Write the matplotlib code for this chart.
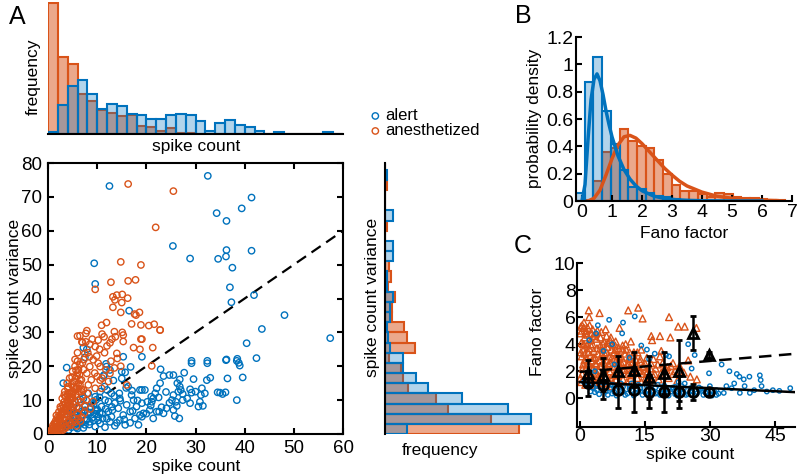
import numpy as np
import matplotlib
matplotlib.use("Agg")
import matplotlib.pyplot as plt
from matplotlib.ticker import FuncFormatter

plt.rcParams['font.family'] = ['Liberation Sans', 'DejaVu Sans']

BLUE = '#0072BD'
ORANGE = '#D95319'

# ---------------- Panel A data: spike count mean vs variance ----------------
alert_mean = [12.5, 32.5, 41.4, 39.4, 34.3, 36.3, 25.4, 36.3, 41.4, 36.2, 34.6, 28.9, 37.5, 9.4, 9.6,
              37.0, 41.9, 37.3, 48.1, 43.5, 57.4, 40.4, 16.5, 7.2, 42.4, 38.5, 36.3, 38.8, 29.2, 32.4,
              3.8, 7.9, 29.2, 32.4, 36.2, 38.4, 39.0, 39.6, 36.5, 27.7, 29.6, 32.3, 35.0, 36.1, 38.4,
              26.8, 26.3, 26.8, 25.5, 24.7, 23.5, 22.9, 22.8, 22.1, 21.8, 21.4, 19.7, 18.7, 28.9, 29.2,
              31.3, 31.1, 31.9, 27.4, 26.5, 25.5, 25.2, 27.4, 28.3, 28.9, 30.9, 30.6, 31.5, 26.0, 26.2,
              24.7, 24.1, 23.1, 23.5, 25.5, 25.8, 26.7, 21.4, 20.7, 19.1, 21.1, 20.9, 20.2, 22.1, 22.6,
              19.4, 3.1, 7.5, 11.3, 11.9, 11.5, 15.0, 15.3, 19.1, 19.1, 6.2, 6.8, 7.5, 8.2, 8.9,
              9.6, 10.2, 10.9, 11.6, 12.3, 12.9, 13.6, 14.3, 14.6, 15.3, 16.0, 16.7, 17.4, 18.0, 18.7,
              19.1, 6.5, 7.5, 8.5, 9.6, 10.6, 11.6, 12.6, 13.6, 14.6, 15.7, 16.7, 17.7, 18.4, 5.5,
              4.8, 4.1, 5.8, 7.2, 8.2, 9.6, 10.6, 12.9, 16.3, 17.0, 3.5, 2.8, 11.8, 12.6, 11.4,
              15.7, 15.0, 13.3, 14.5, 12.0, 10.5, 9.8, 16.8, 13.1, 4.5, 5.2, 6.0, 6.6, 7.8,
              8.6, 9.3, 10.0, 11.0, 12.0, 13.0, 14.0, 15.5, 17.2, 18.2, 20.0, 21.0, 22.5, 24.0, 27.0,
              30.0, 33.0, 34.5, 35.5, 5.0, 5.6, 6.9, 4.3, 3.3, 2.4]
alert_var = [73.2, 76.2, 69.8, 66.6, 65.2, 62.9, 55.5, 54.3, 54.1, 52.4, 51.7, 51.8, 49.1, 50.4, 44.3,
             43.3, 41.0, 38.9, 35.1, 31.0, 28.3, 26.8, 36.4, 25.5, 22.4, 22.2, 22.0, 21.0, 21.6, 21.6,
             19.6, 25.0, 20.9, 20.9, 21.8, 21.6, 20.2, 16.7, 16.4, 18.1, 16.2, 15.9, 12.2, 12.3, 10.0,
             16.1, 15.0, 14.0, 17.4, 17.4, 17.1, 19.1, 15.0, 13.5, 12.0, 10.5, 13.0, 13.0, 13.2, 12.2,
             13.5, 11.5, 12.0, 11.8, 12.5, 11.5, 10.0, 10.0, 10.5, 9.1, 9.5, 8.1, 8.3, 9.5, 8.3,
             9.2, 7.6, 7.9, 6.1, 7.1, 5.3, 4.6, 4.6, 7.1, 5.1, 9.5, 8.4, 9.5, 6.6, 6.6,
             6.1, 15.0, 22.6, 17.1, 19.9, 14.0, 18.4, 22.8, 22.8, 13.0, 7.6, 6.6, 8.1, 5.6, 9.1,
             7.1, 5.1, 8.1, 10.0, 6.6, 5.1, 9.1, 7.6, 10.5, 5.6, 8.6, 6.6, 10.0, 8.1, 5.6,
             9.1, 4.1, 2.7, 3.6, 2.2, 3.1, 2.0, 3.6, 2.4, 4.1, 2.7, 3.3, 4.6, 2.7, 5.6,
             3.6, 2.2, 2.0, 10.5, 12.0, 11.0, 12.5, 12.0, 14.0, 11.5, 4.1, 2.7, 20.7, 18.9, 17.4,
             18.2, 16.4, 15.8, 12.0, 13.0, 10.8, 10.1, 19.8, 7.0, 6.0, 8.8, 3.0, 10.2, 4.4,
             6.3, 4.0, 7.3, 6.0, 4.5, 8.0, 3.3, 4.3, 6.8, 9.9, 6.0, 11.0, 10.8, 12.4, 13.0,
             12.5, 16.6, 12.3, 11.8, 6.9, 4.9, 3.3, 3.0, 2.2, 1.6]
# more alert neurons in the dense low corner
alert_mean_low = [3.0, 3.6, 4.2, 4.8, 5.4, 6.0, 6.6, 7.2, 7.8, 8.4, 9.0, 9.6, 10.2, 5.1, 5.7,
                  6.3, 6.9, 7.5, 8.1, 8.7, 9.3, 9.9, 10.5, 11.1, 11.7, 12.3, 13.5, 14.7, 15.9, 17.1]
alert_var_low = [1.8, 2.4, 1.2, 2.0, 2.6, 1.6, 3.0, 1.8, 4.0, 2.8, 4.8, 6.0, 4.0, 4.8, 6.2,
                 3.8, 5.4, 7.0, 6.4, 8.0, 8.8, 6.8, 6.2, 4.6, 7.4, 9.6, 11.2, 9.8, 13.6, 12.8]

anest_mean = [16.3, 25.5, 21.9, 14.8, 18.9, 12.8, 16.3, 17.8, 9.6, 14.0, 15.1, 13.2, 13.6, 16.2, 15.0,
              13.2, 14.8, 17.6, 17.9, 18.6, 17.0, 18.9, 20.5, 21.6, 22.8, 11.9, 10.9, 7.9, 7.7, 6.0,
              13.5, 15.1, 18.9, 10.2, 11.4, 12.6, 13.7, 6.9, 7.7, 21.3, 18.7, 15.3, 15.3, 14.0, 14.1,
              9.6, 7.5, 8.4, 9.2, 10.2, 10.6, 11.8, 12.6, 8.5, 7.9, 6.5, 8.2, 5.8, 6.8, 9.6,
              10.9, 16.0, 12.3, 10.6, 21.1, 19.1, 22.8, 6.5, 7.0, 8.5, 9.0, 10.5, 11.5, 12.0, 13.0,
              11.0, 6.0, 5.5, 7.0, 9.5, 10.0, 11.0, 8.8, 7.2, 12.8, 13.5, 9.9, 14.8, 17.4,
              0.3, 0.5, 0.7, 0.9, 1.0, 1.2, 1.3, 1.5, 1.6, 1.8, 1.9, 2.0, 2.1, 2.2, 2.3,
              2.5, 2.6, 2.7, 2.8, 3.0, 3.0, 3.1, 3.2, 3.3, 3.4, 3.5, 3.6, 3.7, 3.8, 3.9,
              4.0, 4.0, 4.1, 4.2, 4.3, 4.4, 4.5, 4.6, 4.7, 4.8, 4.9, 5.0, 5.0, 5.1, 5.2,
              5.3, 5.4, 5.5, 5.6, 5.7, 5.8, 5.9, 6.0, 6.1, 6.2, 6.3, 6.4, 6.5, 6.7, 6.8,
              7.0, 7.2, 7.5, 7.8, 8.0, 1.1, 1.5, 2.0, 2.4, 0.2, 0.8, 1.7, 2.9, 3.4, 3.9,
              4.4, 5.0, 5.5, 6.0, 3.5, 4.0, 4.8, 5.5, 6.2, 6.9, 2.3, 3.6, 4.6, 5.8, 7.4,
              8.6, 9.2, 6.6, 4.3, 5.2, 3.1, 2.6, 1.4, 0.6]
anest_var = [73.8, 71.7, 61.0, 50.8, 49.9, 44.8, 45.2, 45.5, 42.7, 41.0, 41.2, 40.5, 39.6, 40.1, 38.8,
             37.4, 35.9, 35.4, 35.1, 35.9, 32.5, 32.2, 32.0, 32.4, 30.7, 32.9, 32.1, 30.5, 29.7, 28.9,
             30.2, 30.0, 28.0, 27.7, 28.7, 26.9, 28.7, 27.2, 27.2, 25.5, 25.0, 29.2, 27.3, 23.8, 22.3,
             25.8, 23.8, 22.8, 21.9, 20.9, 19.9, 18.9, 17.9, 19.9, 17.9, 15.9, 14.5, 13.5, 12.5, 13.5,
             13.5, 14.5, 15.5, 15.9, 20.1, 28.0, 30.7, 29.0, 27.0, 26.5, 28.0, 25.0, 24.0, 26.0, 28.0,
             29.5, 24.0, 22.0, 21.0, 18.0, 17.0, 16.5, 16.0, 19.0, 21.5, 19.5, 23.0, 20.0, 25.5,
             0.4, 1.0, 0.6, 1.5, 2.5, 1.0, 3.2, 2.0, 4.0, 1.5, 3.0, 5.0, 2.2, 6.5, 4.0,
             3.0, 7.5, 5.5, 2.0, 4.5, 8.5, 6.5, 3.0, 9.5, 5.0, 7.5, 11.0, 4.0, 6.0, 8.5,
             10.0, 13.5, 5.5, 7.0, 12.0, 3.5, 9.0, 6.5, 11.0, 14.5, 8.0, 5.0, 10.5, 12.5, 7.0,
             15.5, 9.5, 4.5, 11.5, 13.5, 8.0, 17.0, 6.0, 10.0, 19.0, 12.5, 7.5, 14.5, 9.5, 16.0,
             11.0, 13.0, 8.5, 10.0, 12.0, 0.3, 0.5, 0.8, 1.2, 0.1, 0.2, 5.5, 10.5, 12.5, 15.0,
             16.5, 18.5, 20.0, 21.5, 2.0, 2.5, 3.0, 3.5, 4.5, 5.0, 1.5, 1.8, 2.6, 2.4, 6.2,
             7.4, 9.6, 3.8, 8.7, 13.8, 1.2, 0.9, 0.9, 0.6]
# more anesthetized neurons in the dense low corner
anest_mean_low = [0.6, 1.0, 1.4, 1.8, 2.2, 2.6, 3.0, 3.4, 3.8, 4.2, 4.6, 5.0, 5.4, 5.8, 6.2,
                  1.2, 1.6, 2.0, 2.4, 2.8, 3.2, 3.6, 4.0, 4.4, 4.8, 5.2, 5.6, 6.0, 6.4, 6.8,
                  2.5, 3.3, 4.1, 4.9, 5.7, 6.5, 7.3, 8.1]
anest_var_low = [0.8, 1.8, 2.8, 3.6, 4.6, 5.5, 6.5, 7.2, 8.0, 9.2, 10.2, 11.6, 13.0, 14.0, 15.0,
                 2.2, 3.2, 1.0, 5.0, 6.2, 7.8, 9.0, 11.8, 10.8, 12.0, 13.8, 16.5, 18.0, 17.5, 13.2,
                 8.0, 11.5, 14.0, 16.8, 18.8, 20.5, 22.0, 24.0]

# histogram of spike counts (top), bin width 2
count_bins = list(range(0, 62, 2))
alert_count_freq = [1.7, 28.3, 48, 54, 40, 24.7, 30, 28, 19.3, 18.3, 14.3, 15, 18.3, 20, 18.3,
                    12.7, 2.7, 10.7, 13.3, 9, 7, 3, 0, 1.5, 0, 0, 0, 0, 1.5, 0]
anest_count_freq = [130.7, 76.7, 69.3, 39.3, 32.7, 23.3, 21, 17.7, 18.7, 8, 6.7, 2.7, 5.3, 0.7, 0.7,
                    0, 0, 0, 0, 0, 0, 0, 0, 0, 0, 0, 0, 0, 0, 0]

# histogram of variances (right), bin width 3
var_bins = list(range(0, 84, 3))
alert_var_freq = [21.7, 145.7, 122.7, 77.3, 43.3, 31, 18.3, 17.7, 5, 3.3, 1.7, 5, 5, 7.7,
                  2, 2, 0, 7.7, 7.7, 0, 0, 7.7, 0, 0, 0, 1.5, 0]
anest_var_freq = [134, 106, 62.7, 50.7, 23.3, 18.3, 16, 4.3, 30, 22.3, 19, 6.7, 6.7, 10,
                  3, 5.7, 4, 0, 0, 0, 1.5, 0, 0, 0, 1.5, 0, 0]

# ---------------- Panel B data: Fano factor distributions ----------------
fano_bins = [-0.2, 0.09, 0.38, 0.67, 0.96, 1.25, 1.54, 1.83, 2.12, 2.41, 2.70, 2.99, 3.28, 3.57,
             3.86, 4.15, 4.44, 4.73, 5.02, 5.31, 5.60, 5.89, 6.18, 6.47, 6.76]
alert_fano_dens = [0.06, 0.87, 1.05, 0.655, 0.42, 0.23, 0.1, 0.09, 0.06, 0.04, 0.03, 0.015, 0.01,
                   0.005, 0, 0, 0, 0, 0, 0, 0, 0, 0, 0]
anest_fano_dens = [0, 0.01, 0.15, 0.36, 0.39, 0.53, 0.44, 0.4, 0.39, 0.3, 0.2, 0.12, 0.07, 0.07,
                   0.05, 0.03, 0.06, 0.05, 0.03, 0.02, 0.02, 0.015, 0.01, 0.005]
fit_x_alert = [0, 0.1, 0.2, 0.3, 0.4, 0.5, 0.6, 0.7, 0.8, 0.9, 1.0, 1.2, 1.4, 1.6, 1.8, 2.0, 2.4,
               2.8, 3.2, 3.6, 4.0, 5.0, 6.0]
fit_y_alert = [0, 0.12, 0.45, 0.74, 0.89, 0.93, 0.88, 0.78, 0.66, 0.56, 0.47, 0.33, 0.23, 0.16,
               0.11, 0.075, 0.035, 0.017, 0.008, 0.004, 0.002, 0, 0]
fit_x_anest = [0.2, 0.4, 0.6, 0.8, 1.0, 1.2, 1.4, 1.6, 1.8, 2.0, 2.25, 2.5, 2.75, 3.0, 3.25, 3.5,
               4.0, 4.5, 5.0, 5.5, 6.0, 6.5]
fit_y_anest = [0, 0.02, 0.08, 0.19, 0.31, 0.41, 0.47, 0.48, 0.46, 0.42, 0.36, 0.3, 0.24, 0.19,
               0.145, 0.11, 0.065, 0.035, 0.02, 0.011, 0.006, 0.003]

# ---------------- Panel C data: Fano factor vs spike count ----------------
c_alert_mean = [4.2, 6.8, 10.0, 9.8, 12.7, 3.8, 14.2, 15.5, 17.3, 19.9, 25.0, 26.5, 25.8, 29.8,
                32.7, 34.5, 36.2, 36.8, 37.8, 39.1, 41.5, 41.7, 41.9, 40.2, 39.2, 36.9, 35.0, 35.6,
                43.1, 48.5, 33.2, 20.6, 7.5, 5.5, 11.5, 16.0,
                3.0, 4.0, 5.0, 6.0, 7.0, 8.0, 9.0, 10.0, 11.0, 12.0, 13.0, 14.0, 15.0, 16.0, 17.0,
                18.0, 19.0, 20.0, 21.0, 22.0, 23.0, 24.0, 25.0, 26.0, 27.0, 28.0, 29.0, 30.0, 31.0,
                32.0, 4.5, 6.5, 8.5, 10.5, 12.5, 14.5, 16.5, 18.5, 20.5, 22.5, 24.5, 26.5, 28.5,
                30.5, 5.5, 7.5, 9.5, 11.5, 13.5, 15.5, 17.5, 19.5, 21.5, 23.5, 25.5, 27.5, 2.0, 1.0,
                2.5, 3.5, 8.0, 12.0, 38.0, 44.5, 46.0, 31.5, 33.8, 2.2, 22.8, 24.2]
c_alert_fano = [5.4, 5.8, 5.6, 4.8, 6.05, 4.8, 3.9, 3.6, 3.3, 3.2, 4.0, 3.2, 2.2, 1.85,
                2.5, 2.0, 1.8, 1.6, 1.4, 1.6, 1.7, 1.35, 0.9, 0.6, 0.4, 0.4, 0.75, 1.1,
                0.5, 0.75, 0.4, 3.1, 4.0, 3.5, 3.0, 2.9,
                0.8, 0.6, 0.9, 0.5, 0.7, 0.45, 0.8, 0.5, 0.35, 0.6, 0.4, 0.7, 0.45, 0.3, 0.55,
                0.4, 0.65, 0.35, 0.5, 0.3, 0.6, 0.4, 0.3, 0.5, 0.35, 0.55, 0.4, 0.3, 0.5,
                0.35, 0.3, 0.25, 0.2, 0.25, 0.2, 0.25, 0.2, 0.25, 0.2, 0.2, 0.25, 0.2, 0.25,
                0.2, 1.1, 1.0, 1.1, 0.9, 1.0, 0.9, 0.8, 0.95, 0.8, 0.9, 0.75, 0.8, 1.0, 1.2,
                0.5, 2.0, 2.5, 1.8, 0.9, 0.6, 0.55, 0.6, 0.9, 4.3, 1.2, 1.1]
c_alert_mean_band = [3.5, 5.5, 7.5, 9.5, 11.5, 13.5, 15.5, 17.5, 19.5, 21.5, 23.5, 25.5, 27.5,
                     29.5, 31.5, 4.0, 6.0, 8.0, 10.0, 12.0, 14.0, 16.0, 18.0, 20.0, 22.0, 24.0,
                     26.0, 28.0, 30.0]
c_alert_fano_band = [0.45, 0.6, 0.35, 0.55, 0.7, 0.45, 0.6, 0.35, 0.5, 0.65, 0.4, 0.55, 0.6,
                     0.45, 0.25, 1.0, 1.2, 0.95, 0.85, 1.1, 0.8, 0.9, 1.0, 0.75, 0.85, 0.7,
                     0.8, 0.7, 0.9]

c_anest_mean = [2.1, 2.2, 4.6, 11.2, 13.5, 14.5, 20.6, 22.7, 24.2, 26.9, 0.6, 2.3, 5.0, 6.0, 9.2,
                16.5, 16.7, 18.5, 20.9, 10.6, 14.2, 18.5, 18.8, 25.0, 20.2, 1.0, 1.5, 0.3, 3.0, 1.8,
                7.2, 6.5, 8.3, 12.5, 11.8, 15.5, 17.0, 21.5, 23.0, 13.0,
                0.4, 0.6, 0.8, 0.5, 0.9, 0.4, 1.2, 1.3, 1.5, 1.4, 1.6, 1.2, 1.7, 2.0, 2.3, 2.1,
                2.5, 2.2, 2.6, 2.8, 3.0, 3.1, 2.9, 3.3, 3.0, 3.5, 3.7, 3.8, 3.6, 4.0, 3.9, 4.3,
                4.5, 4.4, 4.6, 4.2, 4.8, 5.1, 5.3, 5.0, 5.4, 5.2, 5.6, 5.9, 6.1, 6.0, 6.3, 5.8,
                6.4, 6.7, 6.9, 7.1, 6.8, 7.3, 7.0, 7.6, 7.8, 7.7, 8.0, 7.9, 8.4, 8.6, 8.8, 8.5,
                9.0, 9.2, 9.5, 9.4, 9.7, 10.0, 10.3, 10.1, 10.5, 10.9, 11.1, 11.0, 11.4, 11.8,
                12.0, 12.2, 12.5, 12.8, 13.0, 13.3, 13.6, 13.9, 14.2, 14.5, 14.8, 15.2, 15.6,
                16.0, 16.4, 17.0, 17.5, 18.2, 18.8, 19.5, 20.5, 21.5, 22.5, 24.0, 25.5, 27.0,
                3.4, 1.9, 4.1, 2.8, 8.2, 9.8, 11.5, 6.2, 0.2, 1.0, 2.6, 5.5, 7.4]
c_anest_fano = [6.5, 6.0, 6.3, 6.5, 6.7, 5.9, 6.0, 5.3, 5.3, 5.2, 5.4, 5.4, 4.9, 5.1, 5.2,
                4.6, 4.3, 4.6, 4.5, 4.0, 3.6, 3.1, 3.5, 2.8, 2.3, 5.2, 5.0, 5.3, 5.1, 4.7,
                4.5, 4.1, 4.2, 3.4, 4.2, 3.0, 2.9, 2.6, 2.4, 2.8,
                1.2, 1.8, 2.5, 3.1, 3.6, 4.1, 4.5, 1.0, 1.6, 2.2, 2.9, 3.3, 3.9, 1.2, 1.9, 2.5,
                3.2, 3.7, 4.3, 1.0, 1.5, 2.2, 2.8, 3.5, 4.0, 1.2, 1.8, 2.5, 3.0, 3.7, 4.4, 1.0,
                1.5, 2.1, 2.8, 3.3, 3.9, 1.3, 1.9, 2.4, 3.1, 3.6, 4.2, 1.1, 1.6, 2.2, 2.8, 3.3,
                3.8, 1.3, 2.0, 2.6, 3.1, 3.6, 4.3, 1.1, 1.7, 2.3, 2.9, 3.4, 1.4, 2.0, 2.6, 3.2,
                3.7, 1.2, 1.8, 2.4, 3.0, 1.4, 2.1, 2.7, 3.3, 1.2, 1.8, 2.4, 3.0, 1.5,
                2.1, 2.7, 1.2, 1.9, 2.4, 1.5, 2.1, 2.7, 1.2, 1.8, 2.4, 1.5, 2.0,
                1.3, 2.6, 1.6, 2.2, 1.4, 1.9, 2.2, 1.5, 1.8, 1.3, 1.9, 1.6, 1.4,
                4.6, 5.2, 5.0, 4.8, 3.9, 3.6, 3.4, 4.6, 4.8, 4.0, 1.4, 1.1, 0.9]
c_anest_mean_fill = [0.2, 0.7, 1.1, 0.3, 0.8, 1.3, 0.5, 1.0, 1.6, 2.4, 1.9, 2.7, 2.0, 3.2, 2.5,
                     3.6, 3.1, 4.1, 3.7, 4.7, 4.2, 5.2, 4.8, 5.7, 5.4, 6.2, 5.9, 6.6, 6.5, 7.2,
                     7.4, 8.1, 7.5, 8.9, 8.3, 9.6, 9.1, 10.4, 9.9, 11.2, 10.7, 12.0, 11.6, 12.9,
                     12.4, 13.8, 13.3, 14.6, 14.0, 15.4, 15.0, 16.3, 16.1, 17.3, 18.0, 19.1, 20.0,
                     21.0, 22.0]
c_anest_fano_fill = [1.5, 2.2, 2.8, 3.4, 4.0, 4.8, 5.0, 5.6, 1.3, 1.6, 2.6, 2.3, 3.4, 3.0, 4.0,
                     2.6, 4.6, 1.8, 4.8, 2.4, 1.6, 3.3, 4.5, 2.6, 4.0, 3.4, 1.9, 2.5, 4.1, 1.5,
                     3.0, 2.4, 4.0, 1.7, 3.6, 2.6, 3.1, 1.8, 3.9, 2.6, 3.6, 1.7, 2.9, 1.9,
                     3.2, 2.0, 3.4, 2.3, 2.9, 1.8, 2.6, 2.2, 1.0, 1.8, 2.5, 2.6, 2.1,
                     2.4, 2.0]

# binned means (black markers with error bars)
bin_mean_x = [1.9, 5.4, 8.8, 12.5, 15.9, 19.4, 22.9, 26.2, 29.8]
anest_bin_fano = [1.85, 1.75, 2.05, 2.1, 1.55, 1.85, 2.05, 4.85, 3.2]
anest_bin_err = [0.95, 1.2, 1.1, 1.3, 1.6, 1.55, 2.25, 1.25, 0.2]
alert_bin_fano = [1.1, 0.95, 0.65, 0.65, 0.5, 0.45, 0.45, 0.45, 0.45]
alert_bin_err = [0.9, 1.0, 1.4, 1.65, 1.2, 1.45, 1.2, 0.6, 0.3]

# linear fits (intercept, slope)
alert_fit = (1.2, -0.015)
anest_fit = (1.95, 0.027)
fit_range = [0, 50]

# ---------------- figure ----------------
W, H = 800, 476
fig = plt.figure(figsize=(W / 100, H / 100), dpi=100)


def px_axes(l, t, r, b):
    return fig.add_axes([l / W, 1 - b / H, (r - l) / W, (b - t) / H])


def ftext(x, y, s, **kw):
    fig.text(x / W, 1 - y / H, s, ha='center', va='center', **kw)


def clean(ax, keep):
    for side in ['left', 'right', 'top', 'bottom']:
        ax.spines[side].set_visible(side in keep)
        ax.spines[side].set_linewidth(1.5)


def overlaid_hist(ax, edges, a_vals, b_vals, horizontal=False):
    # anesthetized first, alert on top, both see-through
    widths = np.diff(edges)
    for vals, col, alpha in [(b_vals, ORANGE, 0.5), (a_vals, BLUE, 0.3)]:
        if horizontal:
            ax.barh(edges[:-1], vals, height=widths, align='edge', color=col, alpha=alpha,
                    edgecolor='none')
            ax.barh(edges[:-1], vals, height=widths, align='edge', fill=False, edgecolor=col,
                    linewidth=1.5)
        else:
            ax.bar(edges[:-1], vals, width=widths, align='edge', color=col, alpha=alpha,
                   edgecolor='none')
            ax.bar(edges[:-1], vals, width=widths, align='edge', fill=False, edgecolor=col,
                   linewidth=1.5)


# --- A: scatter
ax = px_axes(48, 163, 343, 434)
ax.plot([0, 60], [0, 60], color='k', lw=1.6, ls=(0, (5, 3)), zorder=1)
sa = ax.scatter(alert_mean + alert_mean_low, alert_var + alert_var_low, s=21, facecolors='none',
                edgecolors=BLUE, linewidths=1.0, label='alert', zorder=2)
so = ax.scatter(anest_mean + anest_mean_low, anest_var + anest_var_low, s=21, facecolors='none',
                edgecolors=ORANGE, linewidths=1.0, label='anesthetized', zorder=3)
ax.set_xlim(0, 60)
ax.set_ylim(0, 80)
ax.set_xticks(range(0, 61, 10))
ax.set_yticks(range(0, 81, 10))
ax.tick_params(direction='in', length=4, width=1.5, labelsize=13.5, top=True, right=True, pad=4)
for sp in ax.spines.values():
    sp.set_linewidth(1.5)
ftext(196, 466, 'spike count', fontsize=12.5)
ftext(15, 298, 'spike count variance', fontsize=12.5, rotation=90)

# --- A: top histogram
axt = px_axes(48, 2, 343, 133.5)
overlaid_hist(axt, np.array(count_bins), alert_count_freq, anest_count_freq)
axt.set_xlim(0, 60)
axt.set_ylim(0, 131.5)
clean(axt, ['bottom'])
axt.set_xticks([])
axt.set_yticks([])
ftext(196, 146, 'spike count', fontsize=12.5)
ftext(33, 77, 'frequency', fontsize=12.5, rotation=90)

# legend
fig.legend(handles=[sa, so], loc='upper left', bbox_to_anchor=(357 / W, 1 - 100 / H), frameon=False,
           fontsize=12, handletextpad=0.0, labelspacing=0.0, borderpad=0, handlelength=1.2)

# --- A: right histogram
axr = px_axes(385, 163, 534, 434)
overlaid_hist(axr, np.array(var_bins), alert_var_freq, anest_var_freq, horizontal=True)
axr.set_ylim(0, 80)
axr.set_xlim(0, 149)
clean(axr, ['left'])
axr.set_xticks([])
axr.set_yticks([])
ftext(440, 450, 'frequency', fontsize=12.5)
ftext(373, 297, 'spike count variance', fontsize=12.5, rotation=90)

# --- B: Fano factor histogram
axb = px_axes(576, 37, 792, 201)
overlaid_hist(axb, np.array(fano_bins), alert_fano_dens, anest_fano_dens)
axb.plot(fit_x_anest, fit_y_anest, color=ORANGE, lw=2.5)
axb.plot(fit_x_alert, fit_y_alert, color=BLUE, lw=2.5)
axb.set_xlim(-0.2, 7)
axb.set_ylim(0, 1.2)
axb.set_xticks(range(0, 8))
axb.set_yticks([0, 0.2, 0.4, 0.6, 0.8, 1.0, 1.2])
axb.yaxis.set_major_formatter(FuncFormatter(lambda v, p: f'{v:g}'))
axb.tick_params(direction='in', length=4, width=1.5, labelsize=14, pad=2)
clean(axb, ['left', 'bottom'])
ftext(684, 234, 'Fano factor', fontsize=12.5)
ftext(535, 118, 'probability density', fontsize=12.5, rotation=90)

# --- C: Fano factor vs spike count
axc = px_axes(577, 263, 795, 427)
axc.scatter(c_anest_mean + c_anest_mean_fill, c_anest_fano + c_anest_fano_fill, s=24, marker='^',
            facecolors='none', edgecolors=ORANGE, linewidths=1.0, zorder=2)
axc.scatter(c_alert_mean + c_alert_mean_band, c_alert_fano + c_alert_fano_band, s=10, marker='o',
            facecolors='none', edgecolors=BLUE, linewidths=1.0, zorder=3)
axc.plot(fit_range, [alert_fit[0] + alert_fit[1] * x for x in fit_range], color='k', lw=1.8,
         zorder=4)
axc.plot(fit_range, [anest_fit[0] + anest_fit[1] * x for x in fit_range], color='k', lw=1.8,
         ls=(0, (5, 3)), zorder=4)
axc.errorbar(bin_mean_x, anest_bin_fano, yerr=anest_bin_err, fmt='^', color='k', ms=7,
             mfc='none', mew=2, elinewidth=1.8, capsize=2.5, capthick=1.8, zorder=5)
axc.errorbar(bin_mean_x, alert_bin_fano, yerr=alert_bin_err, fmt='o', color='k', ms=7,
             mfc='none', mew=2, elinewidth=1.8, capsize=2.5, capthick=1.8, zorder=5)
axc.set_xlim(-0.6, 49.6)
axc.set_ylim(-2.12, 10)
axc.set_xticks([0, 15, 30, 45])
axc.set_yticks([0, 2, 4, 6, 8, 10])
axc.tick_params(direction='in', length=4, width=1.5, labelsize=14, pad=1)
clean(axc, ['left', 'bottom'])
ftext(690, 454, 'spike count', fontsize=12.5)
ftext(537, 332, 'Fano factor', fontsize=12.5, rotation=90)

# panel letters
ftext(17, 17, 'A', fontsize=18)
ftext(523, 16, 'B', fontsize=18)
ftext(523, 246, 'C', fontsize=18)

fig.savefig('out.png', dpi=100)
